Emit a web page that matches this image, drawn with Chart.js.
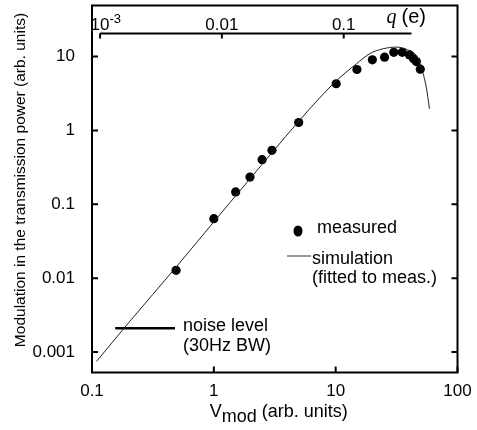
<!DOCTYPE html>
<html>
<head>
<meta charset="utf-8">
<script src="https://cdn.jsdelivr.net/npm/chart.js@4.4.0/dist/chart.umd.min.js"></script>
<style>
  html, body { margin: 0; padding: 0; background: #fff; }
  #wrap { width: 477px; height: 430px; }
</style>
</head>
<body>
<div id="wrap"><canvas id="chart" width="477" height="430"></canvas></div>
<script>
// measured points (V_mod, modulation)
const vMeasured = [0.49, 1.0, 1.51, 1.98, 2.49, 3.0, 4.97, 10.1, 14.95, 20.0, 25.2, 30.0, 35.2, 40.4, 43.6, 45.9, 49.5];
const pMeasured = [0.0128, 0.064, 0.147, 0.234, 0.402, 0.537, 1.28, 4.28, 6.67, 9.02, 9.8, 11.4, 11.4, 10.5, 9.3, 8.55, 6.73];

// simulation curve
const vSim = [0.109, 0.2, 0.5, 1, 2, 3, 5, 7, 10, 14.8, 19, 24.4, 31.4, 39.1, 45.9, 50.4, 55.4, 58.9];
const pSim = [0.00075, 0.0025, 0.0147, 0.058, 0.226, 0.5, 1.34, 2.5, 4.6, 7.96, 10.9, 12.7, 13.4, 12.3, 10.3, 7.17, 3.85, 1.96];

// noise level
const vNoise = [0.155, 0.48];
const pNoise = [0.0021, 0.0021];

// axes
const xTicks = [0.1, 1, 10, 100];
const xTickLabels = ["0.1", "1", "10", "100"];
const yTicks = [0.001, 0.01, 0.1, 1, 10];
const yTickLabels = ["0.001", "0.01", "0.1", "1", "10"];

// top q axis (charge), q = qPerV * V
const qPerV = 0.00859;
const qTicks = [0.001, 0.01, 0.1];
const qTickLabels = ["10^-3", "0.01", "0.1"];
const qAxisMax = 0.36;
const qAxisLevel = 20.5;

const SANS = '"Liberation Sans", Arial, sans-serif';
Chart.defaults.font.family = SANS;
Chart.defaults.color = "#000";

const toXY = (xs, ys) => xs.map((v, i) => ({ x: v, y: ys[i] }));

const decorations = {
  id: "decorations",
  afterDatasetsDraw(chart) {
    const { ctx, chartArea: a, scales: { x, y } } = chart;
    ctx.save();
    ctx.strokeStyle = "#000";
    ctx.fillStyle = "#000";

    // frame + inward ticks
    ctx.lineWidth = 2;
    ctx.strokeRect(a.left, a.top, a.right - a.left, a.bottom - a.top);
    ctx.beginPath();
    x.ticks.forEach((t) => {
      const px = x.getPixelForValue(t.value);
      ctx.moveTo(px, a.bottom);
      ctx.lineTo(px, a.bottom - 6);
    });
    y.ticks.forEach((t) => {
      const py = y.getPixelForValue(t.value);
      ctx.moveTo(a.left, py);
      ctx.lineTo(a.left + 6, py);
      ctx.moveTo(a.right, py);
      ctx.lineTo(a.right - 6, py);
    });
    ctx.stroke();

    // q axis
    const qx = (q) => x.getPixelForValue(q / qPerV);
    const qy = y.getPixelForValue(qAxisLevel);
    ctx.beginPath();
    ctx.moveTo(qx(qTicks[0]), qy);
    ctx.lineTo(qx(qAxisMax), qy);
    qTicks.forEach((q) => {
      ctx.moveTo(qx(q), qy);
      ctx.lineTo(qx(q), qy + 5);
    });
    ctx.stroke();

    ctx.textBaseline = "alphabetic";
    qTicks.forEach((q, i) => {
      const [base, sup] = qTickLabels[i].split("^");
      ctx.font = "17px " + SANS;
      ctx.textAlign = "center";
      ctx.fillText(base, qx(q), qy - 3.5);
      if (sup) {
        const w = ctx.measureText(base).width;
        ctx.font = "13px " + SANS;
        ctx.textAlign = "left";
        ctx.fillText(sup, qx(q) + w / 2, qy - 10);
      }
    });
    ctx.textAlign = "left";
    ctx.font = "italic 20px \"Liberation Serif\", serif";
    const qLabelX = qx(qAxisMax) - 25;
    ctx.fillText("q", qLabelX, qy - 10);
    ctx.font = "20px " + SANS;
    ctx.fillText("(e)", qLabelX + 15, qy - 10);

    // y title
    ctx.save();
    ctx.translate(21, (a.top + a.bottom) / 2 - 9);
    ctx.rotate(-Math.PI / 2);
    ctx.textAlign = "center";
    ctx.textBaseline = "middle";
    ctx.font = "15.5px " + SANS;
    ctx.fillText("Modulation in the transmission power (arb. units)", 0, 0);
    ctx.restore();

    // x title with subscript
    ctx.font = "18px " + SANS;
    const wV = ctx.measureText("V").width;
    const wSub = ctx.measureText("mod").width;
    const wRest = ctx.measureText(" (arb. units)").width;
    const tx = (a.left + a.right) / 2 + 4 - (wV + wSub + wRest) / 2;
    const tyBase = a.bottom + 44.5;
    ctx.textAlign = "left";
    ctx.fillText("V", tx, tyBase);
    ctx.fillText("mod", tx + wV, tyBase + 5);
    ctx.fillText(" (arb. units)", tx + wV + wSub, tyBase);

    // legend
    const lx = a.left + 206;
    const ly = a.top + 225.5;
    ctx.beginPath();
    ctx.ellipse(lx, ly, 4.5, 5.5, 0, 0, Math.PI * 2);
    ctx.fill();
    ctx.font = "18px " + SANS;
    ctx.fillText("measured", lx + 19, ly + 2);
    ctx.lineWidth = 1;
    ctx.strokeStyle = "#333";
    ctx.beginPath();
    ctx.moveTo(lx - 11, ly + 25);
    ctx.lineTo(lx + 13, ly + 25);
    ctx.stroke();
    ctx.fillText("simulation", lx + 14, ly + 33);
    ctx.fillText("(fitted to meas.)", lx + 14, ly + 52);

    // noise label
    ctx.fillText("noise level", a.left + 91, a.top + 325.5);
    ctx.fillText("(30Hz BW)", a.left + 91, a.top + 345.5);

    ctx.restore();
  },
};

new Chart(document.getElementById("chart"), {
  type: "scatter",
  data: {
    datasets: [
      {
        label: "simulation",
        data: toXY(vSim, pSim),
        showLine: true,
        borderColor: "#222",
        borderWidth: 1,
        pointRadius: 0,
        cubicInterpolationMode: "monotone",
      },
      {
        label: "noise level",
        data: toXY(vNoise, pNoise),
        showLine: true,
        borderColor: "#000",
        borderWidth: 2.5,
        pointRadius: 0,
      },
      {
        label: "measured",
        data: toXY(vMeasured, pMeasured),
        backgroundColor: "#000",
        borderColor: "#000",
        borderWidth: 0,
        pointRadius: 4.6,
      },
    ],
  },
  options: {
    responsive: false,
    animation: false,
    layout: { padding: { top: 5.5, right: 19.5, left: 0, bottom: 0 } },
    plugins: { legend: { display: false }, tooltip: { enabled: false } },
    scales: {
      x: {
        type: "logarithmic",
        min: 0.1,
        max: 100,
        grid: { display: false },
        border: { display: false },
        afterBuildTicks: (s) => { s.ticks = xTicks.map((v) => ({ value: v })); },
        afterFit: (s) => {
          s.height = 57.5;
          s.paddingLeft = 0;
          s.paddingRight = 0;
        },
        ticks: {
          font: { size: 17 },
          padding: 1,
          maxRotation: 0,
          callback: (v) => xTickLabels[xTicks.indexOf(v)],
        },
      },
      y: {
        type: "logarithmic",
        min: 0.00053,
        max: 49,
        grid: { display: false },
        border: { display: false },
        afterBuildTicks: (s) => { s.ticks = yTicks.map((v) => ({ value: v })); },
        afterFit: (s) => {
          s.width = 92;
          s.paddingTop = 0;
          s.paddingBottom = 0;
        },
        ticks: {
          font: { size: 17 },
          padding: 9,
          callback: (v) => yTickLabels[yTicks.indexOf(v)],
        },
      },
    },
  },
  plugins: [decorations],
});
</script>
</body>
</html>
